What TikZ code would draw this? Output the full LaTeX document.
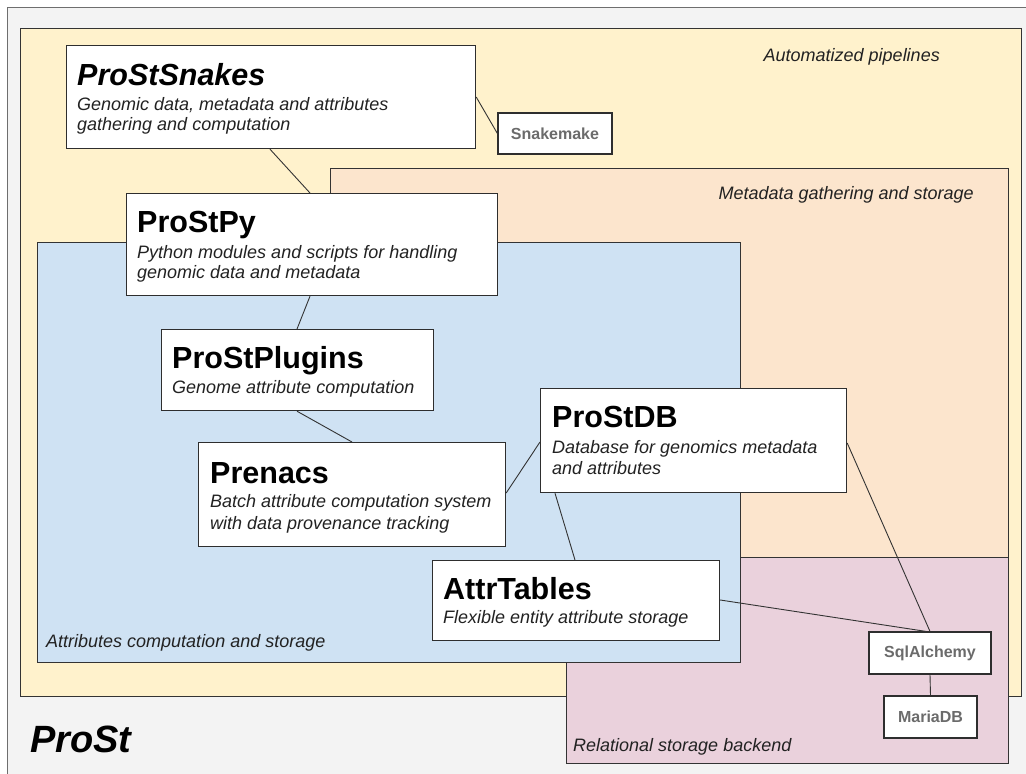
\documentclass[tikz,border=0pt]{standalone}
\usepackage{fontspec}
\setmainfont{Liberation Sans}
\usetikzlibrary{calc}
\definecolor{outerbg}{HTML}{F3F3F3}
\definecolor{outerln}{HTML}{6E6E6E}
\definecolor{yellowbg}{HTML}{FFF2CC}
\definecolor{orangebg}{HTML}{FCE5CD}
\definecolor{bluebg}{HTML}{CFE2F3}
\definecolor{pinkbg}{HTML}{EAD1DC}
\definecolor{linec}{HTML}{333333}
\definecolor{boxc}{HTML}{2E2E2E}
\definecolor{subc}{HTML}{222222}
\definecolor{toolc}{HTML}{6B6B6B}
\begin{document}
\begin{tikzpicture}[x=1pt,y=-1pt,
  grp/.style={draw=linec, line width=1pt},
  box/.style={draw=boxc, fill=white, line width=1.2pt, inner sep=0pt, anchor=north west},
  ttl/.style={anchor=base west, inner sep=0pt, font=\fontsize{30.5}{30.5}\selectfont\bfseries},
  sub/.style={anchor=base west, inner sep=0pt, text=subc, font=\fontsize{18}{21}\selectfont\itshape},
  tool/.style={draw=boxc, fill=white, line width=1.2pt, inner sep=0pt, text=toolc, font=\fontsize{16}{16}\selectfont\bfseries},
  conn/.style={draw=linec, line width=0.9pt},
  glabel/.style={inner sep=0pt, text=subc, font=\fontsize{18}{18}\selectfont\itshape}
]
\clip (0,0) rectangle (1026,774);
\fill[white] (0,0) rectangle (1026,774);
% group areas
\draw[fill=outerbg, draw=outerln, line width=1pt] (7,7) rectangle (1060,800);
\draw[grp, fill=yellowbg] (20,28) rectangle (1021,696);
\draw[grp, fill=orangebg] (330,168) rectangle (1008,557);
\draw[grp, fill=pinkbg] (566,557) rectangle (1008,763);
\draw[grp, fill=bluebg] (37,242) rectangle (740,662);
% group labels
\node[glabel, anchor=base east] (lauto) at (940,61) {Automatized pipelines};
\node[glabel, anchor=base east] (lmeta) at (974,199) {Metadata gathering and storage};
\node[glabel, anchor=base west] (lattr) at (46,647) {Attributes computation and storage};
\node[glabel, anchor=base west] (lrel) at (573,751) {Relational storage backend};
\node[anchor=base west, inner sep=0pt, font=\fontsize{38}{38}\selectfont\bfseries\itshape] (lprost) at (30,752) {ProSt};
% boxes
\node[box, minimum width=409pt, minimum height=103pt] (snakes) at (66,45) {};
\node[ttl] (snakesT) at ($(snakes.north west)+(11,40)$) {\itshape ProStSnakes};
\node[sub] (snakesS1) at ($(snakes.north west)+(11,65)$) {Genomic data, metadata and attributes};
\node[sub] (snakesS2) at ($(snakes.north west)+(11,85)$) {gathering and computation};

\node[box, minimum width=371pt, minimum height=102pt] (py) at (126,193) {};
\node[ttl] (pyT) at ($(py.north west)+(11,39)$) {ProStPy};
\node[sub] (pyS1) at ($(py.north west)+(11,65)$) {Python modules and scripts for handling};
\node[sub] (pyS2) at ($(py.north west)+(11,85)$) {genomic data and metadata};

\node[box, minimum width=272pt, minimum height=81pt] (plugins) at (161,329) {};
\node[ttl] (pluginsT) at ($(plugins.north west)+(11,39)$) {ProStPlugins};
\node[sub] (pluginsS1) at ($(plugins.north west)+(11,64)$) {Genome attribute computation};

\node[box, minimum width=307pt, minimum height=104pt] (prenacs) at (198,442) {};
\node[ttl] (prenacsT) at ($(prenacs.north west)+(12,41)$) {Prenacs};
\node[sub] (prenacsS1) at ($(prenacs.north west)+(12,65)$) {Batch attribute computation system};
\node[sub] (prenacsS2) at ($(prenacs.north west)+(12,87)$) {with data provenance tracking};

\node[box, minimum width=306pt, minimum height=104pt] (db) at (540,388) {};
\node[ttl] (dbT) at ($(db.north west)+(12,39)$) {ProStDB};
\node[sub] (dbS1) at ($(db.north west)+(12,65)$) {Database for genomics metadata};
\node[sub] (dbS2) at ($(db.north west)+(12,86)$) {and attributes};

\node[box, minimum width=287pt, minimum height=80pt] (attr) at (432,560) {};
\node[ttl] (attrT) at ($(attr.north west)+(11,39)$) {AttrTables};
\node[sub] (attrS1) at ($(attr.north west)+(11,63)$) {Flexible entity attribute storage};

\node[tool, minimum width=114pt, minimum height=41pt] (snakemake) at (555,133.5) {Snakemake};
\node[tool, minimum width=122pt, minimum height=42pt] (sql) at (930,653) {SqlAlchemy};
\node[tool, minimum width=93pt, minimum height=42pt] (maria) at (930.5,717) {MariaDB};
% connectors
\draw[conn] ($(snakes.south west)+(204,0)$) -- ($(py.north west)+(184,0)$);
\draw[conn] ($(snakes.north east)+(0,52)$) -- (snakemake.west);
\draw[conn] ($(py.south west)+(184,0)$) -- ($(plugins.north west)+(136,0)$);
\draw[conn] ($(plugins.south west)+(136,0)$) -- ($(prenacs.north west)+(154,0)$);
\draw[conn] ($(prenacs.north east)+(0,51)$) -- ($(db.north west)+(0,54)$);
\draw[conn] ($(db.south west)+(15,0)$) -- ($(attr.north west)+(143,0)$);
\draw[conn] ($(db.north east)+(0,55)$) -- (sql.north);
\draw[conn] ($(attr.north east)+(0,40)$) -- ($(sql.north)+(-4,0)$);
\draw[conn] (sql.south) -- (maria.north);
\end{tikzpicture}
\end{document}
